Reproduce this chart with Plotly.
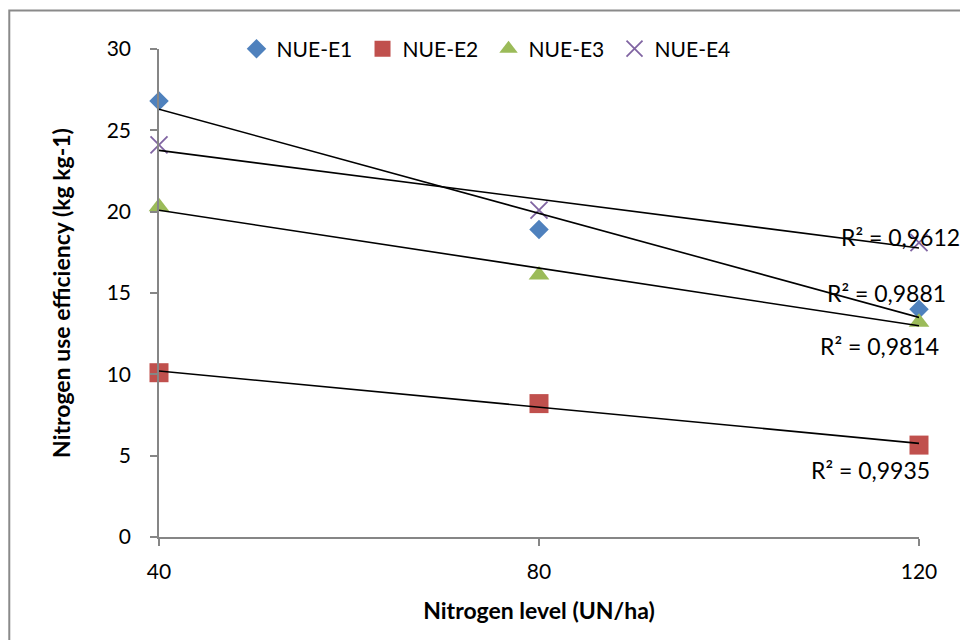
import numpy as np
import plotly.graph_objects as go

# Nitrogen levels (UN/ha)
n_levels = [40, 80, 120]

# Nitrogen use efficiency (kg kg-1) per experiment
nue_e1 = [26.8, 18.9, 14.0]
nue_e2 = [10.1, 8.2, 5.65]
nue_e3 = [20.3, 16.1, 13.2]
nue_e4 = [24.1, 20.1, 18.1]

series_names = ["NUE-E1", "NUE-E2", "NUE-E3", "NUE-E4"]
r2_labels = ["R² = 0,9881", "R² = 0,9935", "R² = 0,9814", "R² = 0,9612"]
# label anchor positions in data units (x, y)
r2_pos = [(116.6, 15.0), (114.9, 4.1), (115.8, 11.75), (118.1, 18.45)]

y_ticks = [0, 5, 10, 15, 20, 25, 30]

FONT = "Lato"
AXIS_GREY = "#868686"

styles = [
    dict(symbol="diamond", color="#4F81BD", size=15),
    dict(symbol="square", color="#C0504D", size=19),
    dict(symbol="triangle-up", color="#9BBB59", size=18),
    dict(symbol="x-thin-open", color="#8064A2", size=17),
]

fig = go.Figure()

all_series = [nue_e1, nue_e2, nue_e3, nue_e4]

for name, vals, st in zip(series_names, all_series, styles):
    marker = dict(symbol=st["symbol"], size=st["size"], color=st["color"])
    if st["symbol"].endswith("open"):
        marker["line"] = dict(color=st["color"], width=1.8)
    else:
        marker["line"] = dict(width=0)
    fig.add_trace(go.Scatter(
        x=n_levels, y=vals, mode="markers", name=name, marker=marker,
        cliponaxis=False,
    ))

# linear trendlines, drawn over the markers
for vals in all_series:
    slope, intercept = np.polyfit(n_levels, vals, 1)
    xs = np.array([n_levels[0], n_levels[-1]])
    fig.add_trace(go.Scatter(
        x=xs, y=slope * xs + intercept, mode="lines",
        line=dict(color="black", width=1.6),
        showlegend=False, hoverinfo="skip", cliponaxis=False,
    ))

for txt, (ax, ay) in zip(r2_labels, r2_pos):
    fig.add_annotation(
        x=ax, y=ay, xref="x", yref="y", text=txt, showarrow=False,
        font=dict(family=FONT, size=23, color="black"),
        xanchor="center", yanchor="middle",
    )

# outer chart frame
fig.add_shape(
    type="rect", xref="paper", yref="paper",
    x0=-0.197, x1=1.07, y0=-0.23, y1=1.079,
    line=dict(color="#8a8a8a", width=2), fillcolor="rgba(0,0,0,0)",
    layer="below",
)

fig.update_layout(
    width=960, height=640,
    margin=dict(l=159, r=41, t=49, b=103),
    paper_bgcolor="white", plot_bgcolor="white",
    font=dict(family=FONT, size=21, color="black"),
    showlegend=True,
    legend=dict(
        orientation="h", x=0.102, y=1.0, xanchor="left", yanchor="middle",
        font=dict(family=FONT, size=21), bgcolor="rgba(0,0,0,0)",
        itemwidth=30, tracegroupgap=0,
        entrywidth=81, entrywidthmode="pixels",
    ),
    xaxis=dict(
        range=[40, 120], tickvals=n_levels, ticktext=[str(v) for v in n_levels],
        showgrid=False, zeroline=False, showline=True,
        linecolor=AXIS_GREY, linewidth=1.5,
        ticks="outside", ticklen=7, tickcolor=AXIS_GREY, tickwidth=1.5,
        tickfont=dict(family=FONT, size=21), ticklabelstandoff=8,
        title=dict(text="<b>Nitrogen level (UN/ha)</b>", font=dict(family=FONT, size=23), standoff=21),
    ),
    yaxis=dict(
        range=[0, 30], tickvals=y_ticks,
        showgrid=False, zeroline=False, showline=True,
        linecolor=AXIS_GREY, linewidth=1.5,
        ticks="outside", ticklen=7, tickcolor=AXIS_GREY, tickwidth=1.5,
        tickfont=dict(family=FONT, size=21), ticklabelstandoff=15,
        title=dict(text="<b>Nitrogen use efficiency (kg kg-1)</b>", font=dict(family=FONT, size=23), standoff=30),
    ),
)

fig.write_html("out.html")
